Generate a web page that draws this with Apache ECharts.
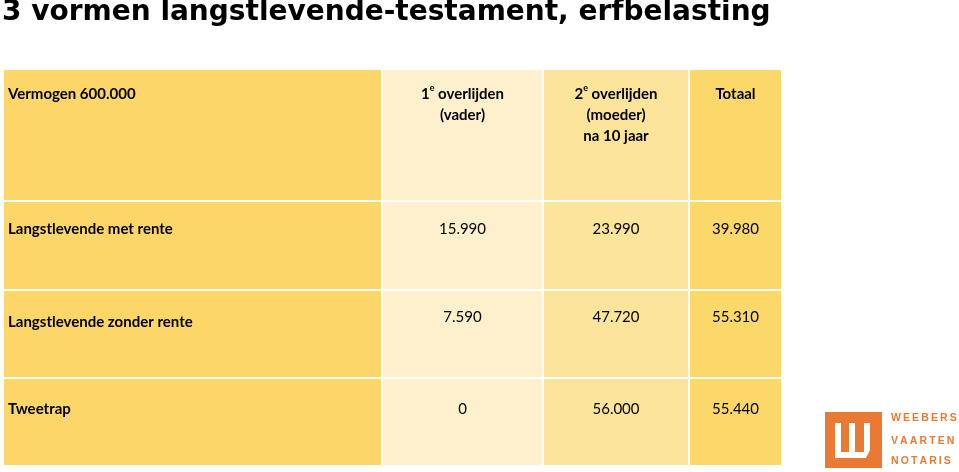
<!DOCTYPE html>
<html><head><meta charset="utf-8">
<script src="https://cdn.jsdelivr.net/npm/echarts@6/dist/echarts.min.js"></script>
<style>html,body{margin:0;padding:0;background:#fff}#c{width:959px;height:472px}</style>
</head><body><div id="c"></div>
<script>
// ---- data ----
const titleText = '3 vormen langstlevende-testament, erfbelasting';
const cornerText = 'Vermogen 600.000';
const columnHeaders = ['1e overlijden\n(vader)', '2e overlijden\n(moeder)\nna 10 jaar', 'Totaal'];
const rowLabels = ['Langstlevende met rente', 'Langstlevende zonder rente', 'Tweetrap'];
const firstDeath = [15990, 7590, 0];
const secondDeath = [23990, 47720, 56000];
const totals = [39980, 55310, 55440];
const logoLines = ['WEEBERS', 'VAARTEN', 'NOTARIS'];

// ---- layout / style ----
const colKeys = ['c0', 'c1', 'c2', 'c3'];
const rowKeys = ['h', 'r0', 'r1', 'r2'];
const colSizes = [379, 161, 146, 93];
const rowSizes = [132, 89, 88, 88];
const colColors = ['#FCD669', '#FEF0CD', '#FDE49B', '#FCD86B'];
const labelTopLeft = [16, 19, 23, 22];   // first column label offsets per row
const labelTopValue = [16, 19, 18, 22];  // other columns label offsets per row
const FONT = 'Lato';
const ORANGE = '#E87A33';

function fmt(n) { return String(n).replace(/\B(?=(\d{3})+(?!\d))/g, '.'); }
function richHeader(t) {
  return t.split('\n').map(function (l) {
    const m = l.match(/^(\d)e (.*)$/);
    return m ? '{b|' + m[1] + '}{sup|e}{b| ' + m[2] + '}' : '{b|' + l + '}';
  }).join('\n');
}

const rich = {
  b: { fontFamily: FONT, fontWeight: 'bold', fontSize: 15, lineHeight: 21, color: '#000' },
  sup: { fontFamily: FONT, fontWeight: 'bold', fontSize: 9, lineHeight: 12, verticalAlign: 'top', color: '#000' }
};

const cells = [];
cells.push({ value: [colKeys[0], rowKeys[0], 0], text: '{b|' + cornerText + '}', c: 0, r: 0 });
columnHeaders.forEach(function (t, i) {
  cells.push({ value: [colKeys[i + 1], rowKeys[0], 0], text: richHeader(t), c: i + 1, r: 0 });
});
const valueCols = [firstDeath, secondDeath, totals];
rowLabels.forEach(function (r, ri) {
  cells.push({ value: [colKeys[0], rowKeys[ri + 1], 0], text: '{b|' + r + '}', c: 0, r: ri + 1 });
  valueCols.forEach(function (col, ci) {
    cells.push({ value: [colKeys[ci + 1], rowKeys[ri + 1], col[ri]], text: fmt(col[ri]), c: ci + 1, r: ri + 1 });
  });
});

const seriesData = cells.map(function (d) {
  const left = d.c === 0;
  return {
    value: d.value,
    text: d.text,
    itemStyle: { color: colColors[d.c], borderColor: '#fff', borderWidth: 2 },
    label: {
      show: true,
      position: left ? [6, labelTopLeft[d.r]] : ['50%', labelTopValue[d.r]],
      align: left ? 'left' : 'center',
      verticalAlign: 'top',
      fontFamily: FONT, fontSize: 15, lineHeight: 21, color: '#000',
      rich: rich,
      formatter: function (p) { return p.data.text; }
    }
  };
});

const logoFont = 'bold 10.5px "Liberation Sans"';
function spaced(s) { return s.split('').join('\u2009'); }
const chart = echarts.init(document.getElementById('c'));
chart.setOption({
  animation: false,
  backgroundColor: '#fff',
  title: {
    text: titleText, left: 2, top: -1, padding: 0,
    textStyle: { fontFamily: 'DejaVu Sans', fontWeight: 'bold', fontSize: 28, color: '#000' }
  },
  matrix: {
    left: 3, top: 69, width: 779, height: 397,
    x: { show: false, data: colKeys.map(function (k, i) { return { value: k, size: colSizes[i] }; }) },
    y: { show: false, data: rowKeys.map(function (k, i) { return { value: k, size: rowSizes[i] }; }) },
    body: { itemStyle: { borderWidth: 0, color: 'transparent' } },
    backgroundStyle: { borderWidth: 0, color: 'transparent' }
  },
  series: [{
    type: 'heatmap',
    coordinateSystem: 'matrix',
    data: seriesData,
    emphasis: { disabled: true }
  }],
  graphic: [
    { type: 'rect', shape: { x: 825, y: 412, width: 57, height: 56 }, style: { fill: ORANGE } },
    { type: 'polygon', shape: { points: [[835,423],[841,423],[841,452],[849,452],[849,423],[855,423],[855,452],[864,452],[864,423],[870,423],[870,450],[866,458],[835,458]] },
      style: { fill: '#fff' } },
    { type: 'text', x: 891, y: 413, style: { text: spaced(logoLines[0]), fill: ORANGE, font: logoFont } },
    { type: 'text', x: 891, y: 436, style: { text: spaced(logoLines[1]), fill: ORANGE, font: logoFont } },
    { type: 'text', x: 891, y: 456, style: { text: spaced(logoLines[2]), fill: ORANGE, font: logoFont } }
  ]
});
</script></body></html>
